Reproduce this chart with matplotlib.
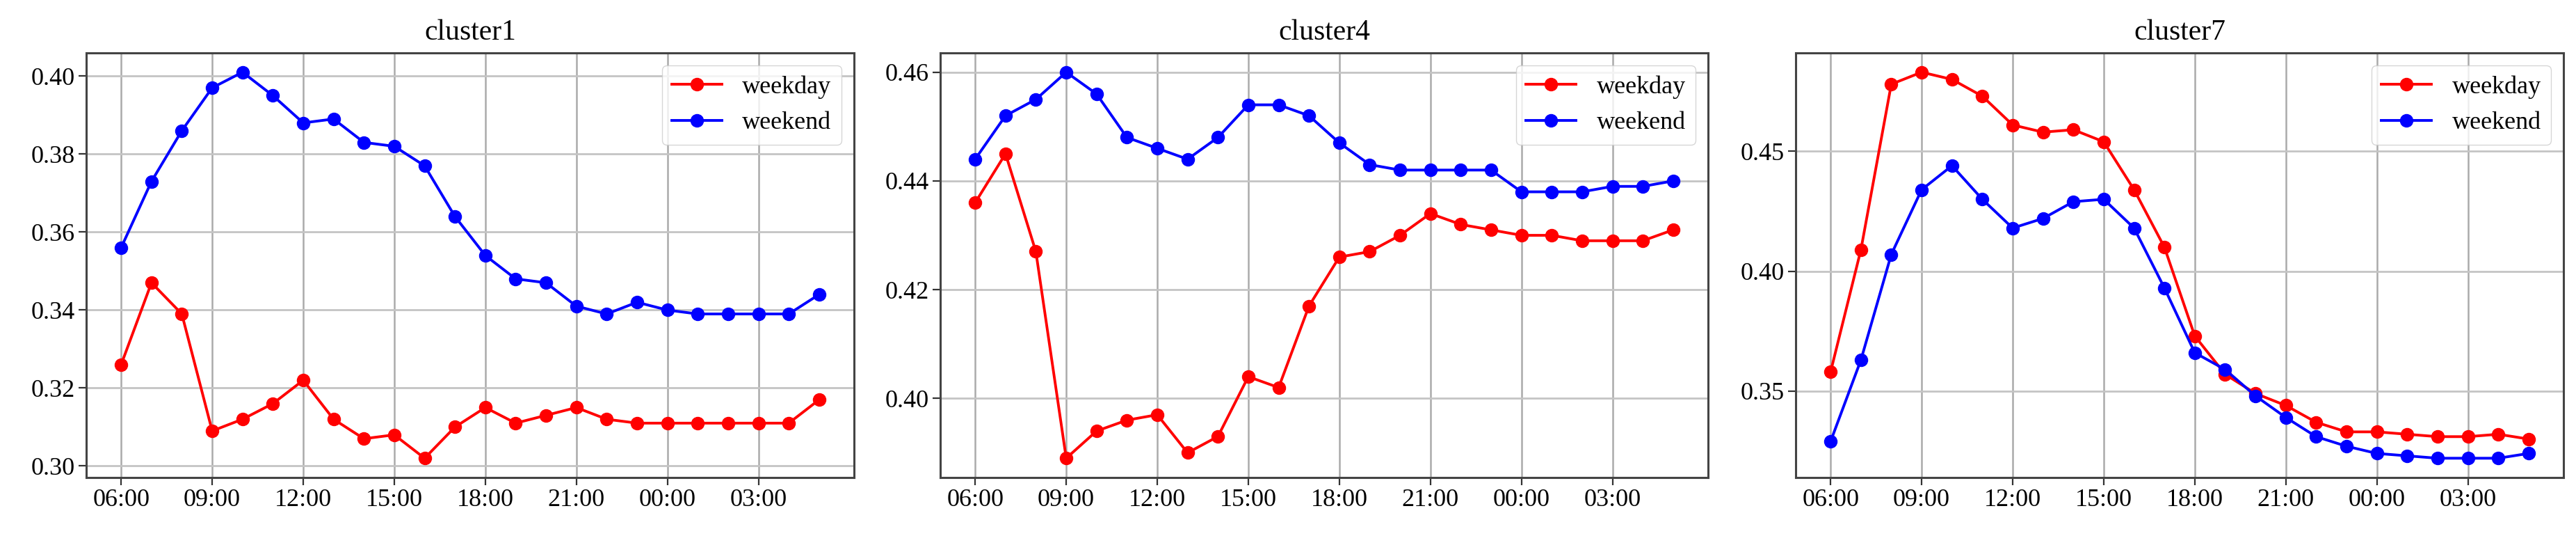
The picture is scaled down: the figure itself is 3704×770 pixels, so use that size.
import matplotlib
matplotlib.use("Agg")
import matplotlib.pyplot as plt
from matplotlib.ticker import MultipleLocator

plt.rcParams['font.family'] = ['Liberation Serif', 'DejaVu Serif']

# hours 06:00 .. 05:00 (24 points)
hours = [f"{(6 + i) % 24:02d}:00" for i in range(24)]
tick_idx = list(range(0, 24, 3))

titles = ["cluster1", "cluster4", "cluster7"]

c1_weekday = [0.326, 0.347, 0.339, 0.309, 0.312, 0.316, 0.322, 0.312, 0.307, 0.308,
              0.302, 0.310, 0.315, 0.311, 0.313, 0.315, 0.312, 0.311, 0.311, 0.311,
              0.311, 0.311, 0.311, 0.317]
c1_weekend = [0.356, 0.373, 0.386, 0.397, 0.401, 0.395, 0.388, 0.389, 0.383, 0.382,
              0.377, 0.364, 0.354, 0.348, 0.347, 0.341, 0.339, 0.342, 0.340, 0.339,
              0.339, 0.339, 0.339, 0.344]

c4_weekday = [0.436, 0.445, 0.427, 0.389, 0.394, 0.396, 0.397, 0.390, 0.393, 0.404,
              0.402, 0.417, 0.426, 0.427, 0.430, 0.434, 0.432, 0.431, 0.430, 0.430,
              0.429, 0.429, 0.429, 0.431]
c4_weekend = [0.444, 0.452, 0.455, 0.460, 0.456, 0.448, 0.446, 0.444, 0.448, 0.454,
              0.454, 0.452, 0.447, 0.443, 0.442, 0.442, 0.442, 0.442, 0.438, 0.438,
              0.438, 0.439, 0.439, 0.440]

c7_weekday = [0.358, 0.409, 0.478, 0.483, 0.480, 0.473, 0.461, 0.458, 0.459, 0.454,
              0.434, 0.410, 0.373, 0.357, 0.349, 0.344, 0.337, 0.333, 0.333, 0.332,
              0.331, 0.331, 0.332, 0.330]
c7_weekend = [0.329, 0.363, 0.407, 0.434, 0.444, 0.430, 0.418, 0.422, 0.429, 0.430,
              0.418, 0.393, 0.366, 0.359, 0.348, 0.339, 0.331, 0.327, 0.324, 0.323,
              0.322, 0.322, 0.322, 0.324]

weekday_all = [c1_weekday, c4_weekday, c7_weekday]
weekend_all = [c1_weekend, c4_weekend, c7_weekend]
y_steps = [0.02, 0.02, 0.05]

fig = plt.figure(figsize=(37.04, 7.70), dpi=100)
lefts = [124 / 3704, 1352 / 3704, 2582 / 3704]
w = 1104 / 3704
b = 84 / 770
h = 610 / 770

x = list(range(24))
for k in range(3):
    ax = fig.add_axes([lefts[k], b, w, h])
    ax.plot(x, weekday_all[k], '-o', color='red', lw=2.8, ms=13, label='weekday')
    ax.plot(x, weekend_all[k], '-o', color='blue', lw=2.8, ms=13, label='weekend')
    ax.set_xticks(tick_idx)
    ax.set_xticklabels([hours[i] for i in tick_idx])
    ax.yaxis.set_major_locator(MultipleLocator(y_steps[k]))
    ax.yaxis.set_major_formatter(plt.FormatStrFormatter('%.2f'))
    ax.xaxis.grid(True, color='#aaaaaa', lw=1.8)
    ax.yaxis.grid(True, color='#c4c4c4', lw=2.0)
    ax.set_axisbelow(True)
    ax.tick_params(labelsize=26, length=8, width=1.6, color='#333333')
    for s in ax.spines.values():
        s.set_color('#444444')
        s.set_linewidth(2.2)
    ax.set_title(titles[k], fontsize=30, pad=14)
    ax.legend(loc='upper right', fontsize=26, framealpha=0.8)

fig.savefig("out.png", dpi=100)
